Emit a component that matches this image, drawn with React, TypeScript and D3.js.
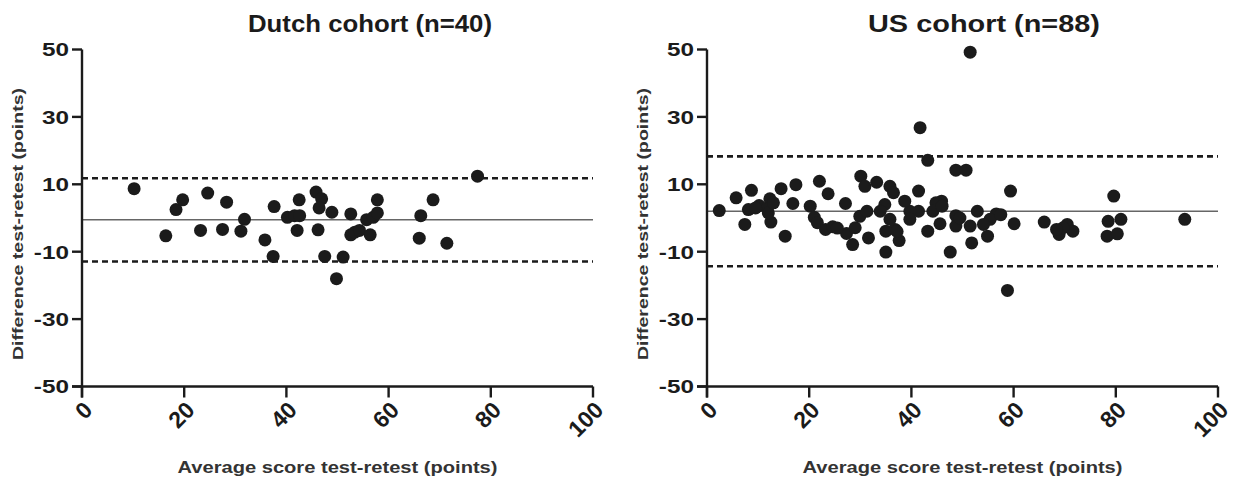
import * as d3 from 'd3';

// Bland-Altman: average score vs difference test-retest
const dutchAvg = [10.2, 16.4, 18.4, 19.7, 24.6, 23.2, 27.5, 28.3, 31.1, 31.8, 35.8, 37.4, 37.6, 40.2, 41.6, 42.6, 42.5, 42.1, 45.8, 46.9, 46.4, 46.2, 48.9, 47.5, 49.8, 51.1, 52.6, 52.6, 53.4, 54.3, 56.4, 55.7, 57.0, 57.8, 57.8, 66.3, 66.0, 68.7, 71.4, 77.4];
const dutchDiff = [8.7, -5.3, 2.5, 5.4, 7.4, -3.7, -3.4, 4.7, -3.9, -0.4, -6.5, -11.4, 3.4, 0.2, 0.7, 0.7, 5.4, -3.7, 7.7, 5.7, 3.0, -3.5, 1.7, -11.4, -18.0, -11.6, 1.2, -5.0, -4.2, -3.7, -5.0, -0.5, 0.2, 1.5, 5.4, 0.7, -6.0, 5.4, -7.5, 12.4];
// lower limit, mean, upper limit
const dutchLimits = [-12.9, -0.5, 11.8];

const usAvg = [2.4, 5.7, 7.4, 8.1, 8.7, 10.2, 11.8, 12.3, 12.5, 12.0, 14.5, 15.3, 16.8, 17.4, 20.2, 21.0, 22.0, 21.6, 23.2, 23.7, 24.6, 27.1, 27.3, 28.5, 29.0, 30.1, 30.9, 31.6, 29.9, 31.3, 33.2,
  51.5, 41.7, 43.2, 48.7, 50.7, 59.4, 58.8, 60.1, 41.4, 47.6, 51.8, 54.9, 52.9, 56.6, 55.4, 54.1, 51.5, 48.7, 48.7, 45.6, 43.2, 45.9, 44.8, 44.2, 41.4, 39.7, 38.7, 39.7, 35.0, 37.6, 36.8, 35.0, 35.8, 34.8, 33.9, 35.8,
  66.0, 68.9, 70.5, 71.6, 69.7, 68.4, 79.6, 78.5, 81.0, 78.3, 80.3, 93.5,
  13.0, 9.5, 25.5, 36.5, 37.2, 46.0, 49.5, 57.5];
const usDiff = [2.2, 6.0, -1.9, 2.5, 8.2, 3.7, 3.0, 5.7, -1.2, 1.5, 8.7, -5.4, 4.3, 9.9, 3.5, 0.2, 10.9, -1.4, -3.4, 7.2, -2.6, 4.3, -4.6, -7.9, -2.9, 12.4, 9.4, -5.9, 0.5, 2.0, 10.6,
  49.2, 26.8, 17.1, 14.2, 14.2, 8.0, -21.5, -1.7, 8.0, -10.1, -7.4, -5.4, 2.0, 1.2, -0.4, -1.9, -2.4, -2.4, 0.7, -1.7, -3.9, 5.0, 4.5, 2.0, 2.0, 2.0, 5.0, -0.4, -10.1, -6.7, -3.4, -3.9, -0.4, 4.0, 2.0, 9.4,
  -1.2, -4.9, -1.9, -3.9, -2.9, -3.4, 6.5, -1.0, -0.4, -5.4, -4.7, -0.4,
  4.5, 3.0, -3.0, 7.5, -4.0, 3.5, 0.0, 1.0];
const usLimits = [-14.3, 2.0, 18.3];

const xTicks = [0, 20, 40, 60, 80, 100];
const yTicks = [-50, -30, -10, 10, 30, 50];

const titles = ['Dutch cohort (n=40)', 'US cohort (n=88)'];
const xTitle = 'Average score test-retest (points)';
const yTitle = 'Difference test-retest  (points)';

const ink = '#1b1b1b';
const font = 'Liberation Sans, Arial, sans-serif';

function Panel({ left, avg, diff, limits, title, titleX, titleLen }) {
  const x = d3.scaleLinear().domain([0, 100]).range([left, left + 511]);
  const y = d3.scaleLinear().domain([-50, 50]).range([386.5, 49.5]);
  const [lo, mean, hi] = limits;
  return (
    <g>
      <text x={titleX} y={32} textAnchor="middle" fontSize={23} fontWeight="bold" fill={ink} fontFamily={font}
        textLength={titleLen} lengthAdjust="spacingAndGlyphs">
        {title}
      </text>
      {/* limits of agreement */}
      {[lo, hi].map((v, i) => (
        <line key={i} x1={x(0)} x2={x(100)} y1={y(v)} y2={y(v)} stroke={ink} strokeWidth={2.6} strokeDasharray="6,4" />
      ))}
      <line x1={x(0)} x2={x(100)} y1={y(mean)} y2={y(mean)} stroke="#666" strokeWidth={1.6} />
      {avg.map((a, i) => (
        <circle key={i} cx={x(a)} cy={y(diff[i])} r={6.5} fill={ink} />
      ))}
      {/* axes */}
      <line x1={x(0)} x2={x(0)} y1={y(50)} y2={y(-50) + 11} stroke={ink} strokeWidth={2.4} />
      <line x1={x(0) - 10} x2={x(100)} y1={y(-50)} y2={y(-50)} stroke={ink} strokeWidth={2.4} />
      {yTicks.map((t) => (
        <g key={t}>
          <line x1={x(0) - 10} x2={x(0)} y1={y(t)} y2={y(t)} stroke={ink} strokeWidth={2.4} />
          <text transform={`translate(${x(0) - 13},${y(t)}) scale(1.28,1)`} dy="0.36em" textAnchor="end"
            fontSize={19} fontWeight="bold" fill={ink} fontFamily={font}>
            {t}
          </text>
        </g>
      ))}
      {xTicks.map((t) => (
        <g key={t}>
          <line x1={x(t)} x2={x(t)} y1={y(-50)} y2={y(-50) + 11} stroke={ink} strokeWidth={2.4} />
          <text
            transform={`translate(${x(t) + 6},${y(-50) + 19}) rotate(-45)`}
            dy="0.36em"
            textAnchor="end"
            fontSize={23}
            fontWeight="bold"
            fill={ink}
            fontFamily={font}
          >
            {t}
          </text>
        </g>
      ))}
      <text x={x(50)} y={473} textAnchor="middle" fontSize={16} fontWeight="bold" fill="#333" fontFamily={font}
        textLength={320} lengthAdjust="spacingAndGlyphs">
        {xTitle}
      </text>
      <text transform={`translate(${left - 59},224) rotate(-90)`} textAnchor="middle" fontSize={15} fontWeight="bold"
        fill="#333" fontFamily={font} textLength={272} lengthAdjust="spacingAndGlyphs">
        {yTitle}
      </text>
    </g>
  );
}

export default function App() {
  return (
    <div style={{ position: 'absolute', left: 0, top: 0 }}>
      <svg width={1239} height={487} style={{ display: 'block', background: '#fff' }}>
        <Panel left={82} avg={dutchAvg} diff={dutchDiff} limits={dutchLimits} title={titles[0]} titleX={370} titleLen={244} />
        <Panel left={707} avg={usAvg} diff={usDiff} limits={usLimits} title={titles[1]} titleX={984} titleLen={232} />
      </svg>
    </div>
  );
}
